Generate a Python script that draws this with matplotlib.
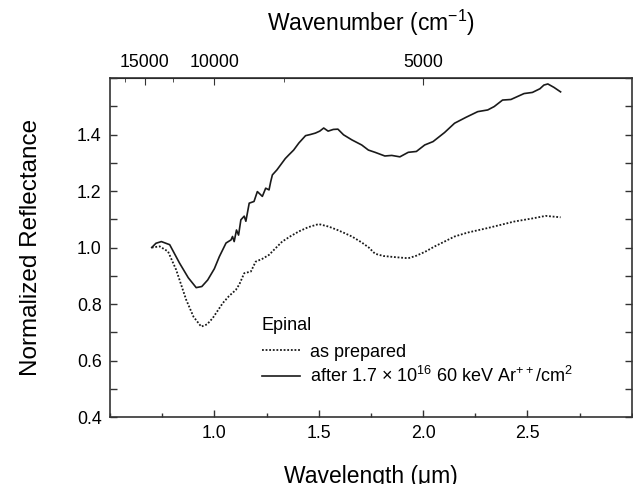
import numpy as np
import matplotlib
matplotlib.use("Agg")
import matplotlib.pyplot as plt
from matplotlib.ticker import MultipleLocator, FixedLocator

plt.rcParams['font.family'] = ['Liberation Sans', 'DejaVu Sans']
plt.rcParams['mathtext.default'] = 'regular'

# wavelength (um) and normalized reflectance
wl_after = [0.70, 0.72, 0.746, 0.786, 0.833, 0.875, 0.913, 0.94, 0.968, 1.0,
            1.024, 1.056, 1.080, 1.087, 1.095, 1.106, 1.116, 1.127, 1.143, 1.151,
            1.167, 1.190, 1.206, 1.230, 1.246, 1.262, 1.270, 1.278, 1.300, 1.318,
            1.340, 1.357, 1.380, 1.405, 1.437, 1.460, 1.484, 1.505, 1.524, 1.545,
            1.570, 1.592, 1.619, 1.659, 1.706, 1.738, 1.770, 1.817, 1.850, 1.889,
            1.929, 1.968, 2.008, 2.048, 2.103, 2.151, 2.206, 2.262, 2.310, 2.341,
            2.381, 2.421, 2.484, 2.524, 2.560, 2.579, 2.598, 2.627, 2.659]
refl_after = [1.00, 1.015, 1.021, 1.01, 0.945, 0.893, 0.858, 0.862, 0.885, 0.925,
              0.968, 1.016, 1.027, 1.039, 1.021, 1.062, 1.044, 1.098, 1.111, 1.093,
              1.157, 1.163, 1.198, 1.181, 1.210, 1.204, 1.233, 1.257, 1.275, 1.293,
              1.315, 1.328, 1.345, 1.370, 1.396, 1.400, 1.405, 1.412, 1.423, 1.412,
              1.418, 1.419, 1.399, 1.381, 1.363, 1.345, 1.337, 1.324, 1.326, 1.321,
              1.337, 1.340, 1.363, 1.375, 1.407, 1.440, 1.461, 1.481, 1.487, 1.499,
              1.522, 1.524, 1.545, 1.549, 1.562, 1.575, 1.579, 1.567, 1.551]

wl_prep = [0.70, 0.738, 0.778, 0.817, 0.865, 0.900, 0.937, 0.965, 0.992, 1.040,
           1.070, 1.103, 1.120, 1.143, 1.175, 1.198, 1.230, 1.262, 1.294, 1.325,
           1.365, 1.405, 1.450, 1.50, 1.548, 1.59, 1.627, 1.659, 1.706, 1.740,
           1.770, 1.81, 1.865, 1.929, 1.968, 2.010, 2.056, 2.100, 2.151, 2.214,
           2.31, 2.437, 2.532, 2.587, 2.659]
refl_prep = [1.0, 1.004, 0.986, 0.921, 0.815, 0.755, 0.720, 0.728, 0.750, 0.803,
             0.828, 0.850, 0.870, 0.909, 0.915, 0.950, 0.960, 0.974, 0.998, 1.021,
             1.040, 1.057, 1.072, 1.083, 1.074, 1.062, 1.050, 1.039, 1.018, 1.000,
             0.978, 0.970, 0.966, 0.962, 0.971, 0.985, 1.004, 1.020, 1.039, 1.053,
             1.069, 1.092, 1.104, 1.112, 1.107]

wn_major = [15000, 10000, 5000]
wn_minor = [17500, 12500, 7500]

fig = plt.figure(figsize=(6.33, 4.84), dpi=100)
ax = fig.add_axes([0.1738, 0.1384, 0.8242, 0.7004])

ax.plot(wl_prep, refl_prep, color='#1a1a1a', lw=1.3, linestyle=(0, (1, 1)),
        label='as prepared')
ax.plot(wl_after, refl_after, color='#1a1a1a', lw=1.2,
        label=r'after 1.7 × 10$^{16}$ 60 keV Ar$^{++}$/cm$^{2}$')

ax.set_xlim(0.5, 3.0)
ax.set_ylim(0.4, 1.6)
ax.xaxis.set_major_locator(FixedLocator([1.0, 1.5, 2.0, 2.5]))
ax.xaxis.set_minor_locator(MultipleLocator(0.25))
ax.yaxis.set_major_locator(FixedLocator([0.4, 0.6, 0.8, 1.0, 1.2, 1.4]))
ax.yaxis.set_minor_locator(MultipleLocator(0.1))
ax.tick_params(which='both', direction='in', labelsize=12.8, width=1.0,
               color='#333333', top=False, right=True, labelright=False)
ax.tick_params(which='major', length=5, pad=6)
ax.tick_params(which='minor', length=3)
ax.tick_params(axis='y', which='minor', right=True, length=5)
for s in ax.spines.values():
    s.set_linewidth(1.2)
    s.set_color('#333333')

ax.set_xlabel('Wavelength (μm)', fontsize=16.5, labelpad=16)
ax.set_ylabel('Normalized Reflectance', fontsize=17.5, labelpad=25)

# top axis in wavenumber
top = ax.secondary_xaxis('top', functions=(lambda w: 1e4 / np.maximum(w, 1e-6),
                                           lambda k: 1e4 / np.maximum(k, 1e-6)))
top.xaxis.set_major_locator(FixedLocator(wn_major))
top.xaxis.set_minor_locator(FixedLocator(wn_minor))
top.tick_params(which='both', direction='in', labelsize=12.8, color='#333333')
top.tick_params(which='major', length=5, pad=5)
top.tick_params(which='minor', length=3)
top.set_xlabel(r'Wavenumber (cm$^{-1}$)', fontsize=16.5, labelpad=16.5)

ax.text(0.291, 0.2714, 'Epinal', transform=ax.transAxes, fontsize=13,
        ha='left', va='center')
ax.legend(loc='upper left', bbox_to_anchor=(0.291, 0.216),
          frameon=False, fontsize=13, handlelength=2.1, handletextpad=0.55,
          labelspacing=0.3, borderpad=0, borderaxespad=0)

fig.savefig('out.png', dpi=100)
